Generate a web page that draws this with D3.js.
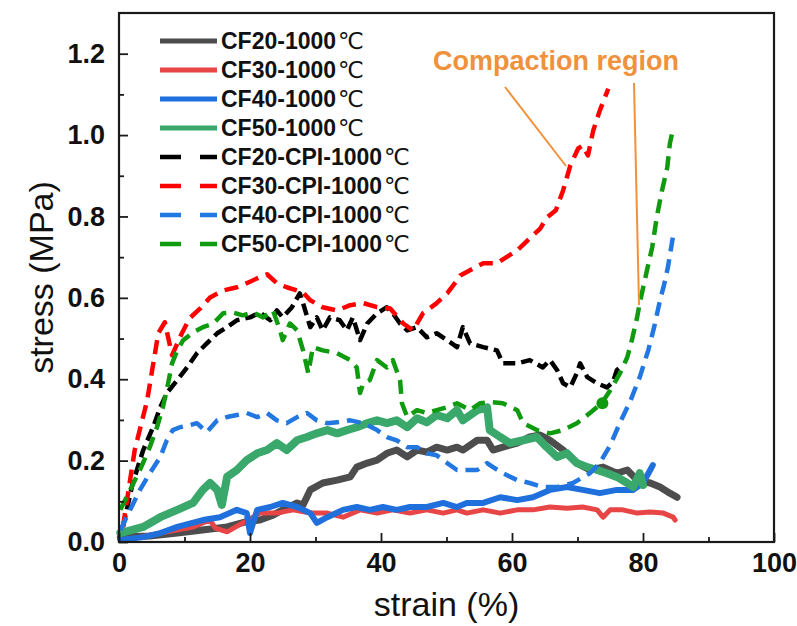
<!DOCTYPE html>
<html><head><meta charset="utf-8">
<script src="https://cdn.jsdelivr.net/npm/d3@7"></script>
<style>
html,body{margin:0;padding:0;background:#fff;}
svg{display:block;}
text{font-family:"Liberation Sans",Arial,Helvetica,sans-serif;}
</style></head>
<body>
<svg id="chart" width="797" height="626"></svg>
<script>
// ---- data (strain %, stress MPa) ----
const seriesNames = ["CF20-1000℃","CF30-1000℃","CF40-1000℃","CF50-1000℃",
  "CF20-CPI-1000℃","CF30-CPI-1000℃","CF40-CPI-1000℃","CF50-CPI-1000℃"];
const xTicks = [0,20,40,60,80,100];
const yTicks = [0,0.2,0.4,0.6,0.8,1.0,1.2];
const annotationText = "Compaction region";

const cf20 = [[0.2,0.012],[4.7,0.015],[8.9,0.022],[12.4,0.029],[16.5,0.037],[19.2,0.049],[21.5,0.054],[23.5,0.066],[25.0,0.079],[27.2,0.096],[28.1,0.091],[29.2,0.128],[31.1,0.145],[33.3,0.152],[35.3,0.16],[36.3,0.184],[37.9,0.194],[39.4,0.201],[40.9,0.218],[42.4,0.226],[44.0,0.209],[45.5,0.226],[47.0,0.221],[48.5,0.233],[50.1,0.226],[51.6,0.233],[52.5,0.226],[54.7,0.25],[56.2,0.25],[57.1,0.226],[58.6,0.233],[60.8,0.243],[62.7,0.258],[64.3,0.263],[65.8,0.25],[67.8,0.226],[69.9,0.194],[71.9,0.177],[73.9,0.184],[76.0,0.169],[77.6,0.177],[79.1,0.152],[81.1,0.145],[82.6,0.135],[84.1,0.12],[85.2,0.11]];
const cf30 = [[0.2,0.005],[3.2,0.012],[6.3,0.022],[11.3,0.037],[13.9,0.054],[14.7,0.034],[16.5,0.025],[18.9,0.047],[21.5,0.071],[24.1,0.071],[26.6,0.079],[29.2,0.071],[31.8,0.071],[34.2,0.061],[36.8,0.079],[39.4,0.071],[41.8,0.079],[44.4,0.071],[47.0,0.079],[49.5,0.071],[51.6,0.079],[53.1,0.071],[55.6,0.079],[58.2,0.071],[60.8,0.079],[63.2,0.079],[65.8,0.086],[68.4,0.083],[70.8,0.086],[73.0,0.079],[73.9,0.061],[75.0,0.079],[76.9,0.079],[79.1,0.071],[81.1,0.074],[83.1,0.071],[84.6,0.061],[84.9,0.054]];
const cf40 = [[0.2,0.005],[3.7,0.012],[6.3,0.022],[8.9,0.037],[12.8,0.054],[15.4,0.061],[18.0,0.079],[19.5,0.071],[20.0,0.022],[21.1,0.079],[23.1,0.086],[25.0,0.096],[27.2,0.086],[29.2,0.071],[30.2,0.047],[31.8,0.061],[34.2,0.079],[36.3,0.086],[38.3,0.079],[40.3,0.086],[42.4,0.079],[44.4,0.086],[47.0,0.086],[49.5,0.096],[51.6,0.086],[53.1,0.096],[55.6,0.096],[58.2,0.11],[60.8,0.103],[63.2,0.11],[65.8,0.128],[68.4,0.135],[70.8,0.128],[73.4,0.12],[76.0,0.128],[78.5,0.128],[80.0,0.145],[81.1,0.177],[81.5,0.189]];
const cf50 = [[0.2,0.022],[3.7,0.037],[6.3,0.061],[8.9,0.079],[11.3,0.096],[12.8,0.128],[13.9,0.145],[15.0,0.128],[15.7,0.091],[16.5,0.16],[18.0,0.177],[19.5,0.201],[21.1,0.218],[22.6,0.226],[24.1,0.243],[25.6,0.226],[27.2,0.25],[28.7,0.258],[30.2,0.267],[31.8,0.275],[33.3,0.267],[34.8,0.275],[36.3,0.282],[37.9,0.292],[39.4,0.299],[40.9,0.292],[42.4,0.299],[44.0,0.282],[45.5,0.304],[47.0,0.294],[48.5,0.312],[50.1,0.304],[51.6,0.324],[52.5,0.299],[54.7,0.324],[56.2,0.331],[56.6,0.275],[58.2,0.258],[59.7,0.243],[61.7,0.25],[63.8,0.258],[65.3,0.233],[66.9,0.209],[68.4,0.218],[69.9,0.194],[71.5,0.184],[73.0,0.177],[74.5,0.169],[76.0,0.16],[77.6,0.145],[78.5,0.135],[79.5,0.169],[80.0,0.14]];
const cf20cpi = [[0.6,0.037],[2.1,0.145],[3.7,0.226],[5.2,0.282],[6.3,0.331],[7.3,0.366],[8.9,0.398],[10.4,0.429],[11.9,0.464],[13.4,0.488],[15.0,0.513],[16.5,0.528],[18.0,0.545],[20.0,0.552],[21.5,0.564],[23.1,0.545],[24.1,0.569],[25.0,0.552],[26.4,0.577],[27.6,0.611],[28.1,0.587],[29.2,0.528],[30.2,0.552],[31.1,0.52],[32.2,0.552],[33.7,0.545],[34.8,0.52],[35.7,0.552],[36.8,0.496],[37.9,0.537],[39.4,0.562],[40.9,0.577],[41.8,0.562],[42.9,0.537],[44.0,0.52],[45.5,0.528],[47.0,0.503],[48.5,0.513],[50.1,0.496],[51.6,0.479],[52.5,0.528],[53.6,0.488],[55.6,0.479],[57.7,0.471],[58.6,0.439],[60.8,0.439],[62.7,0.447],[64.7,0.429],[65.8,0.447],[66.9,0.422],[67.8,0.39],[68.9,0.38],[69.9,0.415],[70.4,0.439],[71.5,0.405],[73.0,0.39],[74.5,0.38],[75.4,0.393],[76.0,0.422],[76.5,0.429]];
const cf30cpi = [[0.6,0.037],[2.4,0.226],[4.3,0.348],[6.0,0.513],[7.0,0.54],[8.1,0.459],[9.6,0.513],[10.8,0.55],[12.4,0.574],[13.9,0.601],[15.9,0.618],[18.0,0.626],[19.5,0.636],[21.1,0.648],[22.6,0.658],[24.1,0.636],[25.6,0.626],[27.2,0.618],[28.1,0.613],[29.2,0.594],[31.1,0.577],[33.3,0.569],[35.3,0.582],[37.3,0.587],[39.4,0.577],[41.4,0.574],[43.4,0.537],[44.9,0.52],[46.4,0.562],[48.5,0.587],[50.1,0.611],[51.6,0.643],[52.1,0.655],[55.6,0.685],[57.7,0.685],[60.8,0.717],[64.3,0.77],[65.3,0.797],[66.7,0.815],[67.8,0.864],[68.9,0.925],[70.1,0.967],[70.8,0.974],[71.6,0.95],[72.4,1.011],[73.4,1.06],[74.7,1.114]];
const cf40cpi = [[0.2,0.029],[1.7,0.079],[3.2,0.128],[4.7,0.169],[6.3,0.209],[7.3,0.25],[8.2,0.275],[9.3,0.282],[10.8,0.287],[11.9,0.292],[13.4,0.27],[15.0,0.299],[16.5,0.307],[18.0,0.312],[19.5,0.317],[21.1,0.307],[22.6,0.317],[24.1,0.299],[25.6,0.292],[27.2,0.307],[28.7,0.317],[30.2,0.299],[31.8,0.292],[33.3,0.294],[35.3,0.299],[37.3,0.292],[39.4,0.275],[40.9,0.258],[42.4,0.25],[44.0,0.233],[45.5,0.233],[47.0,0.218],[48.5,0.213],[50.1,0.194],[51.6,0.177],[52.5,0.177],[54.7,0.177],[56.2,0.194],[57.1,0.184],[58.6,0.169],[60.8,0.152],[62.7,0.145],[64.7,0.135],[66.9,0.135],[69.3,0.145],[71.9,0.169],[73.4,0.194],[75.0,0.238],[76.5,0.294],[78.0,0.344],[79.5,0.405],[80.8,0.471],[81.7,0.528],[82.6,0.594],[83.2,0.631],[83.8,0.675],[84.6,0.753]];
const cf50cpi = [[0.2,0.079],[1.7,0.128],[3.2,0.177],[4.7,0.233],[5.8,0.282],[6.7,0.331],[7.5,0.39],[8.1,0.439],[8.9,0.471],[9.8,0.496],[11.3,0.515],[12.8,0.528],[14.4,0.537],[15.9,0.562],[17.4,0.564],[18.9,0.557],[20.5,0.564],[22.0,0.552],[23.5,0.569],[24.6,0.52],[25.0,0.496],[26.1,0.537],[27.2,0.52],[28.1,0.471],[28.9,0.415],[29.6,0.479],[31.1,0.471],[33.3,0.464],[35.3,0.447],[36.3,0.429],[36.8,0.366],[37.3,0.39],[38.3,0.398],[39.4,0.447],[40.9,0.429],[41.8,0.447],[42.9,0.398],[43.2,0.341],[44.0,0.307],[45.5,0.324],[47.0,0.317],[48.5,0.324],[50.1,0.331],[51.6,0.341],[53.6,0.324],[55.1,0.341],[56.6,0.344],[58.6,0.341],[60.8,0.324],[61.7,0.292],[63.8,0.275],[65.8,0.267],[67.8,0.275],[69.9,0.292],[71.9,0.317],[73.7,0.341],[75.0,0.373],[76.5,0.415],[77.6,0.454],[78.3,0.496],[79.1,0.552],[79.5,0.587],[80.6,0.667],[81.4,0.724],[82.1,0.798],[82.9,0.864],[83.7,0.92],[84.1,0.979],[84.6,1.016]];
const markerPoint = [73.8, 0.341];

// ---- styles ----
const series = [
  {name:seriesNames[0], data:cf20, color:"#4d4d4d", w:7, dash:null},
  {name:seriesNames[1], data:cf30, color:"#e84646", w:5, dash:null},
  {name:seriesNames[2], data:cf40, color:"#1f6fdc", w:6, dash:null},
  {name:seriesNames[3], data:cf50, color:"#3aa86b", w:8, dash:null},
  {name:seriesNames[4], data:cf20cpi, color:"#000000", w:4.5, dash:"12,6"},
  {name:seriesNames[5], data:cf30cpi, color:"#ff0000", w:4.5, dash:"14,8"},
  {name:seriesNames[6], data:cf40cpi, color:"#2277e0", w:4.5, dash:"14,8"},
  {name:seriesNames[7], data:cf50cpi, color:"#109a10", w:4.5, dash:"14,8"}
];

const svg = d3.select("#chart");
const L=119, R=774, T=13, B=542;
const x = d3.scaleLinear().domain([0,100]).range([L,R]);
const y = d3.scaleLinear().domain([0,1.3]).range([B,T]);

const line = d3.line().x(d=>x(d[0])).y(d=>y(d[1])).curve(d3.curveLinear);

const plot = svg.append("g");
series.forEach(s=>{
  plot.append("path").attr("d", line(s.data)).attr("fill","none")
    .attr("stroke", s.color).attr("stroke-width", s.w)
    .attr("stroke-linejoin","round").attr("stroke-linecap", s.dash?"butt":"round")
    .attr("stroke-dasharray", s.dash);
});
plot.append("circle").attr("cx", x(markerPoint[0])).attr("cy", y(markerPoint[1]))
  .attr("r", 6).attr("fill", "#109a10");

// ---- axes ----
const axisColor = "#1a1a1a";
const xAxis = svg.append("g").attr("transform",`translate(0,${B})`)
  .call(d3.axisBottom(x).tickValues(xTicks).tickFormat(d3.format("d")).tickSizeInner(-9).tickSizeOuter(0).tickPadding(11));
const xMinor = svg.append("g").attr("transform",`translate(0,${B})`)
  .call(d3.axisBottom(x).tickValues([10,30,50,70,90]).tickFormat("").tickSizeInner(-5).tickSizeOuter(0));
const yAxis = svg.append("g").attr("transform",`translate(${L},0)`)
  .call(d3.axisLeft(y).tickValues(yTicks).tickFormat(d3.format(".1f")).tickSizeInner(-9).tickSizeOuter(0).tickPadding(14));
const yMinor = svg.append("g").attr("transform",`translate(${L},0)`)
  .call(d3.axisLeft(y).tickValues([0.1,0.3,0.5,0.7,0.9,1.1]).tickFormat("").tickSizeInner(-5).tickSizeOuter(0));
[xAxis,xMinor,yAxis,yMinor].forEach(g=>{
  g.select(".domain").remove();
  g.selectAll(".tick line").attr("stroke",axisColor).attr("stroke-width",1.8);
});
[xAxis,yAxis].forEach(g=>{
  g.selectAll(".tick text").attr("fill","#111").style("font-size","27px").style("font-weight","bold")
   .style("font-family","'Liberation Sans',Arial,sans-serif");
});
svg.append("rect").attr("x",L).attr("y",T).attr("width",R-L).attr("height",B-T)
  .attr("fill","none").attr("stroke",axisColor).attr("stroke-width",2.2);

// axis titles
svg.append("text").attr("x",(L+R)/2).attr("y",616).attr("text-anchor","middle")
  .style("font-size","34px").attr("fill","#111").text("strain (%)");
svg.append("text").attr("transform",`translate(53,${(T+B)/2}) rotate(-90)`).attr("text-anchor","middle")
  .style("font-size","34px").attr("fill","#111").text("stress (MPa)");

// ---- legend ----
const leg = svg.append("g");
series.forEach((s,i)=>{
  const yy = 41 + i*29;
  leg.append("line").attr("x1",160).attr("x2",217).attr("y1",yy).attr("y2",yy)
    .attr("stroke",s.color).attr("stroke-width",s.dash?4.5:5)
    .attr("stroke-dasharray", s.dash?"21,19":null);
  const t = leg.append("text").attr("x",221).attr("y",yy+8).style("font-size","23px").style("font-weight","bold")
    .attr("fill","#111");
  const base = s.name.replace("℃","");
  t.append("tspan").text(base);
  t.append("tspan").attr("dx",2).style("font-family","'DejaVu Sans',sans-serif").style("font-weight","normal").text("℃");
});

// ---- annotation ----
const orange = "#f0913c";
svg.append("text").attr("x",433).attr("y",70).style("font-size","27px").style("font-weight","bold")
  .attr("fill",orange).text(annotationText);
svg.append("line").attr("x1",505).attr("y1",87).attr("x2",566).attr("y2",166).attr("stroke",orange).attr("stroke-width",2);
svg.append("line").attr("x1",634).attr("y1",83).attr("x2",639).attr("y2",305).attr("stroke",orange).attr("stroke-width",2);
</script>
</body></html>
